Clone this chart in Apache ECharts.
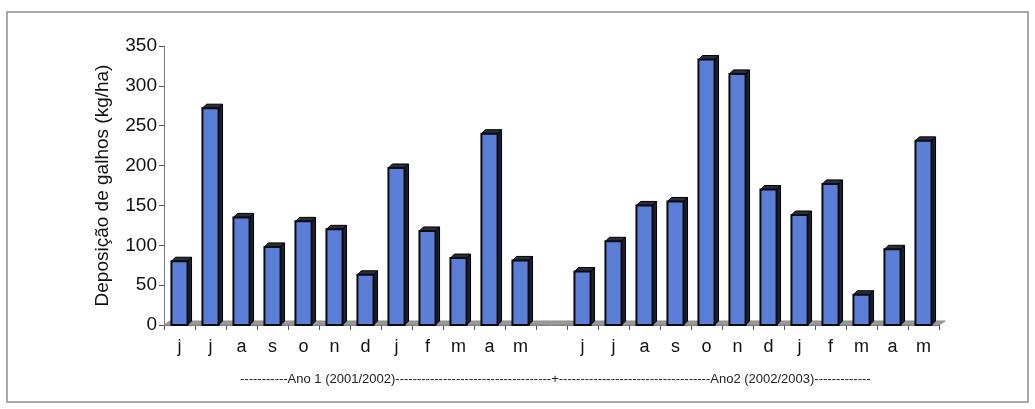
<!DOCTYPE html>
<html>
<head>
<meta charset="utf-8">
<script src="https://cdn.jsdelivr.net/npm/echarts@6/dist/echarts.min.js"></script>
<style>
  html, body { margin: 0; padding: 0; background: #fff; }
  #chart { width: 1035px; height: 409px; }
</style>
</head>
<body>
<div id="chart"></div>
<script>
  // month initials, jun -> may
  const months = ['j', 'j', 'a', 's', 'o', 'n', 'd', 'j', 'f', 'm', 'a', 'm']
  const ano1 = [80, 272, 135, 98, 130, 120, 63, 197, 118, 84, 240, 81]
  const ano2 = [67, 105, 150, 155, 333, 315, 170, 138, 177, 38, 95, 231]
  const yTicks = { min: 0, max: 350, interval: 50 }
  const footer = '-'.repeat(11) + 'Ano 1 (2001/2002)' + '-'.repeat(36) + '+' +
    '-'.repeat(35) + 'Ano2 (2002/2003)' + '-'.repeat(13)

  // one empty slot between the two years
  const categories = months.concat([''], months)
  const values = ano1.concat([null], ano2)

  const chart = echarts.init(document.getElementById('chart'))
  const depth = 4

  function renderBar(params, api) {
    const v = api.value(1)
    if (v == null || isNaN(v)) return
    const top = api.coord([api.value(0), v])
    const base = api.coord([api.value(0), 0])
    const w = api.size([1, 0])[0] * 0.52
    const x0 = top[0] - w / 2
    const x1 = top[0] + w / 2
    const yt = top[1]
    const yb = base[1]
    return {
      type: 'group',
      children: [
        {
          type: 'polygon',
          shape: { points: [[x1, yt], [x1 + depth, yt - depth], [x1 + depth, yb - depth], [x1, yb]] },
          style: { fill: '#1c1f2e', stroke: '#000', lineWidth: 1 }
        },
        {
          type: 'polygon',
          shape: { points: [[x0, yt], [x0 + depth, yt - depth], [x1 + depth, yt - depth], [x1, yt]] },
          style: { fill: '#2a2d3a', stroke: '#000', lineWidth: 1 }
        },
        {
          type: 'rect',
          shape: { x: x0, y: yt, width: w, height: yb - yt },
          style: { fill: '#5b7fd6', stroke: '#0b0b10', lineWidth: 2 }
        }
      ]
    }
  }

  function renderFloor(params, api) {
    if (params.dataIndex !== 0) return
    const cs = params.coordSys
    const yb = cs.y + cs.height
    const xa = cs.x
    const xb = cs.x + cs.width
    return {
      type: 'polygon',
      shape: { points: [[xa, yb], [xa + depth + 2, yb - depth], [xb + depth + 2, yb - depth], [xb, yb]] },
      style: { fill: '#9a9a9a', stroke: '#8a8a8a', lineWidth: 1 }
    }
  }

  chart.setOption({
    animation: false,
    backgroundColor: '#fff',
    textStyle: { fontFamily: 'Liberation Sans, Arial, sans-serif' },
    graphic: [
      {
        type: 'rect',
        shape: { x: 7, y: 12, width: 1021, height: 390 },
        style: { fill: 'none', stroke: '#8c8c8c', lineWidth: 1.5 },
        z: -10
      },
      {
        type: 'text',
        left: 240,
        top: 373,
        style: { text: footer, fontSize: 13, fill: '#222', fontFamily: 'Liberation Sans, Arial, sans-serif' }
      }
    ],
    grid: {
      left: 164,
      right: 96,
      top: 46,
      bottom: 84
    },
    xAxis: {
      type: 'category',
      data: categories,
      boundaryGap: true,
      axisLine: { show: true, lineStyle: { color: '#777', width: 1 } },
      axisTick: { show: true, interval: 0, length: 5, lineStyle: { color: '#555' } },
      axisLabel: { interval: 0, fontSize: 18, color: '#111', margin: 13 }
    },
    yAxis: {
      type: 'value',
      min: yTicks.min,
      max: yTicks.max,
      interval: yTicks.interval,
      name: 'Deposição de galhos (kg/ha)',
      nameLocation: 'middle',
      nameRotate: 90,
      nameGap: 52,
      nameTextStyle: { fontSize: 19, color: '#111' },
      axisLine: { show: true, lineStyle: { color: '#777', width: 1 } },
      axisTick: { show: true, length: 5, lineStyle: { color: '#555' } },
      axisLabel: { fontSize: 19, color: '#111', margin: 7 },
      splitLine: { show: false }
    },
    series: [
      {
        name: 'floor',
        type: 'custom',
        renderItem: renderFloor,
        data: [[0, 0]],
        z: 1,
        silent: true
      },
      {
        name: 'galhos',
        type: 'custom',
        renderItem: renderBar,
        encode: { x: 0, y: 1 },
        data: values.map((v, i) => [i, v]),
        z: 3
      }
    ]
  })
</script>
</body>
</html>
